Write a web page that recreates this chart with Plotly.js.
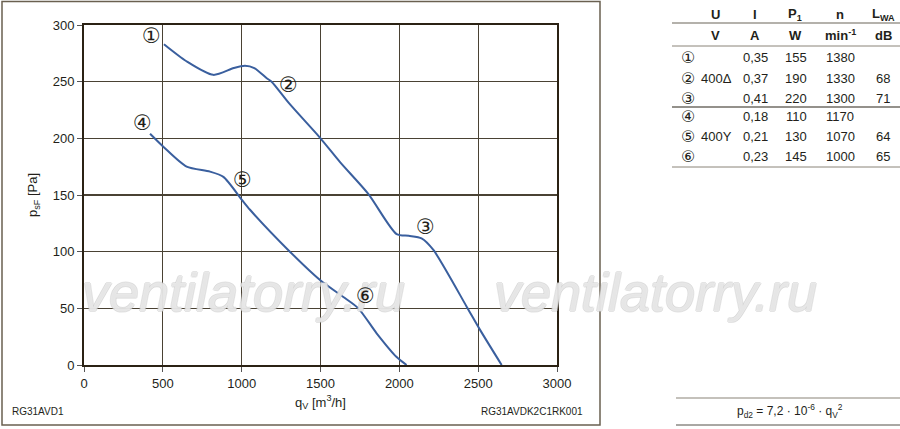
<!DOCTYPE html>
<html>
<head>
<meta charset="utf-8">
<script src="https://cdn.plot.ly/plotly-3.0.1.min.js"></script>
<style>
  html, body { margin: 0; padding: 0; background: #fff; }
  #chart { width: 900px; height: 429px; }
</style>
</head>
<body>
<div id="chart"></div>
<script>
// curves 1-3 (400 delta) drawn as one line, curves 4-6 (400Y) as another
var curveDeltaX = [507, 650, 820, 950, 1021, 1080, 1159, 1190, 1300, 1500, 1624, 1803, 1983, 2060, 2141, 2216, 2427, 2512, 2649];
var curveDeltaY = [283, 268, 256, 262, 264, 262, 253, 250, 231, 200, 179, 151, 115.5, 114, 111.8, 101.5, 51.5, 31, 0];
var curveStarX = [419, 503, 651, 799, 884, 1000, 1053, 1306, 1497, 1645, 1740, 1856, 1983, 2046];
var curveStarY = [204, 192.6, 175, 170.6, 166, 146, 137, 100, 75, 60, 50, 28, 7, 0];

// operating point labels on the curves
var pointNames = ['\u2460', '\u2461', '\u2462', '\u2463', '\u2464', '\u2465'];
var pointX = [425, 1294, 2163, 374, 1008, 1785];
var pointY = [290, 247, 122, 213.5, 163, 61];

// table
var headU = ['U', 'I', 'P<sub>1</sub>', 'n', 'L<sub>WA</sub>'];
var headUnits = ['V', 'A', 'W', 'min<sup>-1</sup>', 'dB'];
var voltage = ['', '400\u0394', '', '', '400Y', ''];
var current = ['0,35', '0,37', '0,41', '0,18', '0,21', '0,23'];
var power = ['155', '190', '220', '110', '130', '145'];
var speed = ['1380', '1330', '1300', '1170', '1070', '1000'];
var noise = ['', '68', '71', '', '64', '65'];

var W = 900, H = 429;
function px(x) { return x / W; }
function py(y) { return 1 - y / H; }

var font = 'Liberation Sans, Arial, sans-serif';
var ink = '#231f1a';
var blue = '#3a5f9e';

var traces = [
  { x: curveDeltaX, y: curveDeltaY, type: 'scatter', mode: 'lines',
    line: { color: blue, width: 2, shape: 'spline', smoothing: 0.7 }, hoverinfo: 'skip' },
  { x: curveStarX, y: curveStarY, type: 'scatter', mode: 'lines',
    line: { color: blue, width: 2, shape: 'spline', smoothing: 0.7 }, hoverinfo: 'skip' }
];

function note(x, y, text, f, opts) {
  var a = { x: px(x), y: py(y), xref: 'paper', yref: 'paper', text: text, showarrow: false,
    xanchor: 'center', yanchor: 'middle', font: f };
  for (var k in (opts || {})) a[k] = opts[k];
  return a;
}

var ann = [];

// watermark first, so the curve labels sit on top of it
var wmFont = { family: font, size: 54, style: 'italic', color: 'rgba(255,255,255,0.5)',
  shadow: '1px 0 0 #cacaca, -1px 0 0 #cacaca, 0 1px 0 #cacaca, 0 -1px 0 #cacaca' };
ann.push(note(243, 292, 'ventilatorry.ru', wmFont));
ann.push(note(655, 292, 'ventilatorry.ru', wmFont));

for (var i = 0; i < pointNames.length; i++) {
  ann.push({ x: pointX[i], y: pointY[i], xref: 'x', yref: 'y', text: pointNames[i], showarrow: false,
    xanchor: 'center', yanchor: 'middle',
    font: { family: 'DejaVu Sans', size: 21, color: ink } });
}

// table text
var colX = [715, 755, 795, 840, 883];
var bold = { family: font, size: 13, color: ink };
headU.forEach(function (t, c) { ann.push(note(colX[c], 14, '<b>' + t + '</b>', bold)); });
headUnits.forEach(function (t, c) { ann.push(note(colX[c], 35, '<b>' + t + '</b>', bold)); });
var rowY = [58, 78, 98, 117, 137, 156];
var cellX = [688, 716, 755, 796, 840, 883];
for (var r = 0; r < 6; r++) {
  var cells = [pointNames[r], voltage[r], current[r], power[r], speed[r], noise[r]];
  cells.forEach(function (t, c) {
    if (t === '') return;
    ann.push(note(cellX[c], rowY[r], t,
      { family: c === 0 ? 'DejaVu Sans' : font, size: c === 0 ? 16 : 13, color: ink }));
  });
}

// footer texts
var small = { family: font, size: 10, color: ink };
ann.push(note(10, 411, 'RG31AVD1', small, { xanchor: 'left' }));
ann.push(note(585, 411, 'RG31AVDK2C1RK001', small, { xanchor: 'right' }));
ann.push(note(790, 411, 'p<sub>d2</sub> = 7,2 \u00b7 10<sup>-6</sup> \u00b7 q<sub>V</sub><sup>2</sup>',
  { family: font, size: 12, color: ink }));

function hline(y, x0, x1, w, col) {
  return { type: 'line', xref: 'paper', yref: 'paper', x0: px(x0), x1: px(x1), y0: py(y), y1: py(y),
    line: { color: col || '#3a3328', width: w || 1 } };
}

var shapes = [
  { type: 'rect', xref: 'paper', yref: 'paper', x0: px(2), x1: px(600), y0: py(425), y1: py(1.5),
    line: { color: '#6a6050', width: 1.5 } },
  hline(23, 672, 900, 1.2, '#6a6458'),
  hline(46, 672, 900, 1, '#8a8478'),
  hline(107, 672, 900, 1.2, '#2a2418'),
  hline(167, 672, 900, 1, '#8a8478'),
  hline(398, 676, 900, 1.2, '#8a8478'),
  hline(425, 676, 900, 1, '#555048')
];

var layout = {
  width: W, height: H,
  margin: { l: 0, r: 0, t: 0, b: 0 },
  paper_bgcolor: '#ffffff', plot_bgcolor: '#ffffff',
  showlegend: false,
  font: { family: font, size: 13, color: ink },
  xaxis: {
    domain: [84 / W, 557 / W], range: [0, 3000], dtick: 500, tick0: 0,
    showgrid: true, gridcolor: '#4a4234', gridwidth: 1.3,
    showline: true, mirror: true, linecolor: '#2b2214', linewidth: 2,
    ticks: 'outside', ticklen: 5, tickcolor: '#555', zeroline: false,
    tickfont: { family: font, size: 13, color: ink },
    title: { text: 'q<sub>V</sub> [m<sup>3</sup>/h]', standoff: 8, font: { family: font, size: 13, color: ink } },
    automargin: false, fixedrange: true
  },
  yaxis: {
    domain: [(H - 365) / H, (H - 25) / H], range: [0, 300], dtick: 50, tick0: 0,
    showgrid: true, gridcolor: '#4a4234', gridwidth: 1.3,
    showline: true, mirror: true, linecolor: '#2b2214', linewidth: 2,
    ticks: 'outside', ticklen: 5, tickcolor: '#555', zeroline: false,
    tickfont: { family: font, size: 13, color: ink },
    title: { text: 'p<sub>sF</sub> [Pa]', standoff: 12, font: { family: font, size: 13, color: ink } },
    automargin: false, fixedrange: true
  },
  annotations: ann,
  shapes: shapes
};

Plotly.newPlot('chart', traces, layout, { displayModeBar: false, staticPlot: true });
</script>
</body>
</html>
